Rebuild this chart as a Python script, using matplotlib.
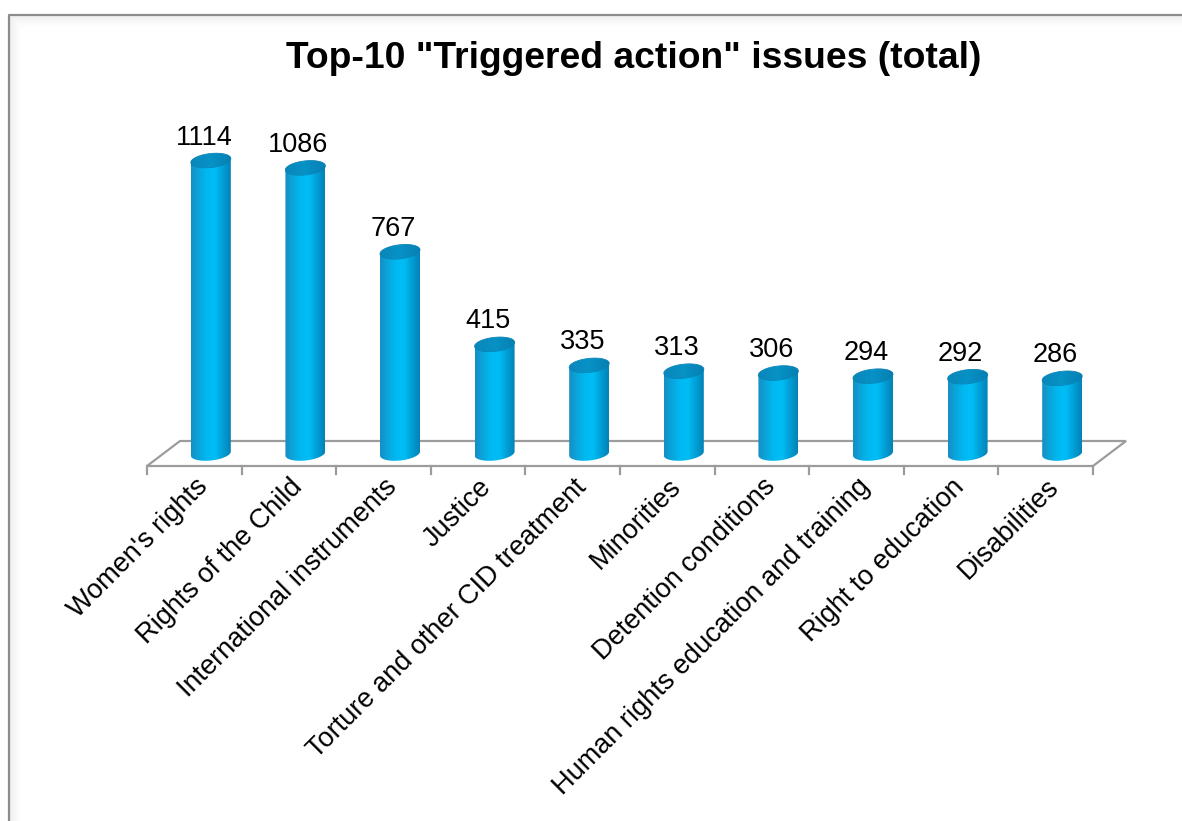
import numpy as np
import matplotlib
matplotlib.use("Agg")
import matplotlib.pyplot as plt
from matplotlib.path import Path
from matplotlib.patches import PathPatch, Polygon
from matplotlib.colors import LinearSegmentedColormap

plt.rcParams['font.family'] = ['Liberation Sans', 'DejaVu Sans']

categories = ["Women's rights", "Rights of the Child", "International instruments",
              "Justice", "Torture and other CID treatment", "Minorities",
              "Detention conditions", "Human rights education and training",
              "Right to education", "Disabilities"]
values = [1114, 1086, 767, 415, 335, 313, 306, 294, 292, 286]
title = 'Top-10 "Triggered action" issues (total)'

W, H = 1182, 821
fig = plt.figure(figsize=(W / 100, H / 100), dpi=100)
ax = fig.add_axes([0, 0, 1, 1])

# pixel scale of the data axes
px_x = 94.6           # px per category
px_y = 0.263          # px per unit
x0_px, y0_px = 194.3, 466.0
ax.set_xlim(-x0_px / px_x, (W - x0_px) / px_x)
ax.set_ylim(-(H - y0_px) / px_y, y0_px / px_y)
ax.axis('off')

# 3d depth of floor and cylinders
dx, dy = 33 / px_x, 25 / px_y
cdx, cdy = dx / 2, dy / 2
a = 20 / px_x
b = 7.0 / px_y
tilt = 2.0 / px_y

n = len(categories)
floor_col = '#9c9c9c'
floor = [(-0.5, 0), (n - 0.5, 0), (n - 0.5 + dx, dy), (-0.5 + dx, dy)]
ax.add_patch(Polygon(floor, closed=True, fill=False, ec=floor_col, lw=1.6, zorder=1))
for i in range(n + 1):
    ax.plot([i - 0.5, i - 0.5], [0, -8 / px_y], color=floor_col, lw=1.6, zorder=1)

cmap = LinearSegmentedColormap.from_list('cyl', ['#168fc4', '#0aa6dc', '#00b9f2', '#00bdf6', '#009fd6', '#0482b6'])
top_cmap = LinearSegmentedColormap.from_list('top', ['#0a86ba', '#0792c6', '#067fb2'])
grad = np.linspace(0, 1, 200).reshape(1, -1)


def ell(cx, cy, t):
    return cx + a * np.cos(t), cy + b * np.sin(t) + tilt * np.cos(t)


for k, v in enumerate(values):
    cx = k + cdx
    base = cdy
    top = base + v
    t_low = np.linspace(np.pi, 2 * np.pi, 60)
    bx, by = ell(cx, base, t_low)
    pts = [(cx - a, top - tilt)] + list(zip(bx, by)) + [(cx + a, top + tilt)]
    body = PathPatch(Path(pts + [pts[0]], closed=True), fc='none', ec='none')
    ax.add_patch(body)
    im = ax.imshow(grad, cmap=cmap, aspect='auto', interpolation='bicubic',
                   extent=(cx - a, cx + a, base - b - tilt, top + tilt), zorder=2)
    im.set_clip_path(body)
    t = np.linspace(0, 2 * np.pi, 120)
    tx, ty = ell(cx, top, t)
    cap = Polygon(list(zip(tx, ty)), closed=True, fc='none', ec='#0a7fb0', lw=0.6, zorder=3)
    ax.add_patch(cap)
    im2 = ax.imshow(grad, cmap=top_cmap, aspect='auto', interpolation='bicubic',
                    extent=(cx - a, cx + a, top - b - tilt, top + b + tilt), zorder=3)
    im2.set_clip_path(cap)
    ax.text(k + 0.1, v + cdy + 16 / px_y, str(v), ha='center', va='baseline',
            fontsize=19.5, color='black', zorder=4)
    ax.text(k + 0.1, -17 / px_y, categories[k], rotation=45, rotation_mode='anchor',
            ha='right', va='center', fontsize=19.5, color='black')

fig.text(633.5 / W, 1 - 68 / H, title, ha='center', va='baseline',
         fontsize=26.8, fontweight='bold')

# chart border with soft inner shadow
for i, c in enumerate(['#f0f0f0', '#f4f4f4', '#f7f7f7', '#fafafa', '#fcfcfc']):
    off = 2 + i * 2
    fig.add_artist(plt.Line2D([(9 + off) / W, (9 + off) / W], [0, 1 - (15 + off) / H],
                              transform=fig.transFigure, color=c, lw=1.6))
    fig.add_artist(plt.Line2D([(9 + off) / W, 1], [1 - (15 + off) / H, 1 - (15 + off) / H],
                              transform=fig.transFigure, color=c, lw=1.6))
fig.add_artist(plt.Line2D([9 / W, 9 / W, 1], [0, 1 - 15 / H, 1 - 15 / H],
                          transform=fig.transFigure, color='#8c8c8c', lw=1.6))

fig.savefig('out.png', dpi=100)
